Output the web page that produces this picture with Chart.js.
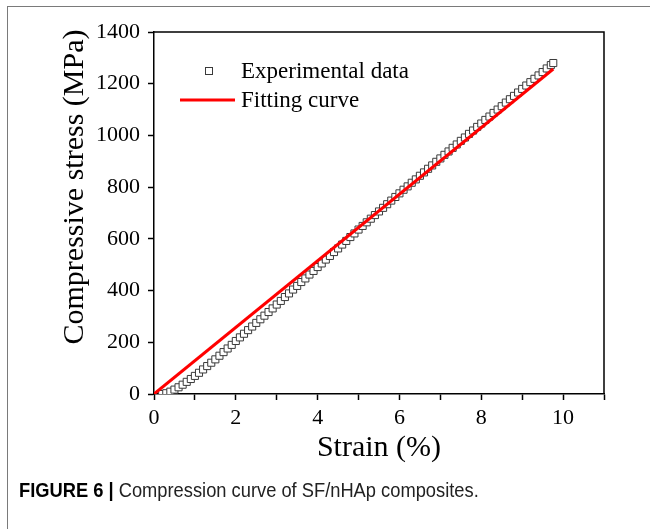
<!DOCTYPE html>
<html>
<head>
<meta charset="utf-8">
<script src="https://cdn.jsdelivr.net/npm/chart.js@4"></script>
<style>
	html, body { margin: 0; padding: 0; background: #fff; }
	#wrap { position: relative; width: 650px; height: 529px; overflow: hidden; }
	#frame { position: absolute; left: 7px; top: 6px; width: 700px; height: 600px; border-left: 1.5px solid #7a7a7a; border-top: 1.5px solid #7a7a7a; pointer-events: none; }
	#caption { position: absolute; left: 19px; top: 480px; font-family: "Liberation Sans", Arial, sans-serif; font-size: 20px; line-height: 1; color: #222; white-space: nowrap; transform: scaleX(0.915); transform-origin: left top; }
	#caption b { color: #000; }
	canvas { position: absolute; left: 0; top: 0; }
</style>
</head>
<body>
<div id="wrap">
	<canvas id="stressChart" width="650" height="529"></canvas>
	<div id="frame"></div>
	<div id="caption"><b>FIGURE 6 |</b> Compression curve of SF/nHAp composites.</div>
</div>
<script>
// Experimental data (strain %, stress MPa)
const strain = [0.2, 0.3, 0.4, 0.5, 0.6, 0.7, 0.8, 0.9, 1.0, 1.1, 1.2, 1.3, 1.4, 1.5, 1.6, 1.7, 1.8, 1.9, 2.0,
	2.1, 2.2, 2.3, 2.4, 2.5, 2.6, 2.7, 2.8, 2.9, 3.0, 3.1, 3.2, 3.3, 3.4, 3.5, 3.6, 3.7, 3.8, 3.9, 4.0,
	4.1, 4.2, 4.3, 4.4, 4.5, 4.6, 4.7, 4.8, 4.9, 5.0, 5.1, 5.2, 5.3, 5.4, 5.5, 5.6, 5.7, 5.8, 5.9, 6.0,
	6.1, 6.2, 6.3, 6.4, 6.5, 6.6, 6.7, 6.8, 6.9, 7.0, 7.1, 7.2, 7.3, 7.4, 7.5, 7.6, 7.7, 7.8, 7.9, 8.0,
	8.1, 8.2, 8.3, 8.4, 8.5, 8.6, 8.7, 8.8, 8.9, 9.0, 9.1, 9.2, 9.3, 9.4, 9.5, 9.6, 9.7, 9.76];
const stress = [0, 3, 9, 17, 26, 36, 47, 58, 70, 82, 95, 108, 121, 134, 148, 162, 176, 190, 205,
	219, 233, 247, 261, 275, 289, 303, 317, 331, 346, 360, 375, 389, 404, 418, 433, 447, 462, 476, 491,
	505, 520, 534, 549, 563, 578, 592, 607, 621, 636, 650, 664, 678, 692, 706, 720, 734, 748, 762, 776,
	790, 803, 817, 830, 844, 857, 871, 884, 898, 911, 925, 938, 952, 965, 979, 992, 1006, 1019, 1033, 1046,
	1060, 1073, 1087, 1100, 1113, 1127, 1140, 1153, 1166, 1180, 1193, 1206, 1219, 1232, 1245, 1259, 1272, 1280];

// Fitting curve (linear)
const fitStrain = [0, 9.76];
const fitStress = [0, 1257];

const seriesNames = ["Experimental data", "Fitting curve"];
const xLabelTicks = [0, 2, 4, 6, 8, 10];
const yLabelTicks = [0, 200, 400, 600, 800, 1000, 1200, 1400];

const serif = "'Liberation Serif', 'Times New Roman', serif";

// draws the box, the rotated y title and the in-plot legend
const decorPlugin = {
	id: 'decor',
	afterDraw(chart) {
		const ctx = chart.ctx;
		const a = chart.chartArea;
		ctx.save();
		ctx.strokeStyle = '#000';
		ctx.lineWidth = 1.5;
		ctx.beginPath();
		ctx.moveTo(a.left, a.top);
		ctx.lineTo(a.right, a.top);
		ctx.lineTo(a.right, a.bottom);
		ctx.stroke();

		// y title
		ctx.fillStyle = '#000';
		ctx.font = "30px " + serif;
		ctx.textAlign = 'center';
		ctx.textBaseline = 'middle';
		ctx.translate(75, 187);
		ctx.rotate(-Math.PI / 2);
		ctx.fillText("Compressive stress (MPa)", 0, 0);
		ctx.restore();

		// legend
		ctx.save();
		ctx.font = "23px " + serif;
		ctx.textAlign = 'left';
		ctx.textBaseline = 'middle';
		ctx.fillStyle = '#fff';
		ctx.strokeStyle = '#3a3a3a';
		ctx.lineWidth = 1;
		ctx.fillRect(205.5, 67.5, 7, 7);
		ctx.strokeRect(205.5, 67.5, 7, 7);
		ctx.fillStyle = '#000';
		ctx.fillText(seriesNames[0], 241, 72);
		ctx.strokeStyle = '#ff0000';
		ctx.lineWidth = 3;
		ctx.beginPath();
		ctx.moveTo(180, 100);
		ctx.lineTo(235, 100);
		ctx.stroke();
		ctx.fillText(seriesNames[1], 241, 101);
		ctx.restore();
	}
};

const ctx = document.getElementById('stressChart').getContext('2d');

new Chart(ctx, {
	type: 'scatter',
	data: {
		datasets: [
			{
				label: seriesNames[1],
				type: 'line',
				data: fitStrain.map((x, i) => ({ x: x, y: fitStress[i] })),
				borderColor: '#ff0000',
				borderWidth: 3,
				pointRadius: 0,
				fill: false,
				order: 0
			},
			{
				label: seriesNames[0],
				data: strain.map((x, i) => ({ x: x, y: stress[i] })),
				pointStyle: 'rect',
				pointRadius: 5,
				borderWidth: 1,
				borderColor: '#3a3a3a',
				backgroundColor: '#ffffff',
				showLine: false,
				order: 1
			}
		]
	},
	options: {
		responsive: false,
		animation: false,
		layout: { padding: { left: 0, top: 32, right: 46, bottom: 0 } },
		plugins: {
			legend: { display: false },
			tooltip: { enabled: false }
		},
		scales: {
			x: {
				type: 'linear',
				position: 'bottom',
				min: 0,
				max: 11,
				afterFit: function(scale) { scale.height = 135; },
				border: { color: '#000', width: 1.5 },
				grid: { drawOnChartArea: false, tickLength: 6, color: '#000', tickWidth: 1.5 },
				ticks: {
					stepSize: 1,
					padding: 5,
					color: '#000',
					font: { family: serif, size: 22 },
					callback: v => xLabelTicks.includes(v) ? v : ''
				},
				title: {
					display: true,
					text: 'Strain (%)',
					color: '#000',
					font: { family: serif, size: 30 },
					padding: { top: 0, bottom: 63 }
				}
			},
			y: {
				type: 'linear',
				min: 0,
				max: 1400,
				afterFit: function(scale) { scale.width = 154; },
				border: { color: '#000', width: 1.5 },
				grid: { drawOnChartArea: false, tickLength: 6, color: '#000', tickWidth: 1.5 },
				ticks: {
					stepSize: 100,
					padding: 8,
					color: '#000',
					font: { family: serif, size: 22 },
					callback: v => yLabelTicks.includes(v) ? v : ''
				}
			}
		}
	},
	plugins: [decorPlugin]
});
</script>
</body>
</html>
